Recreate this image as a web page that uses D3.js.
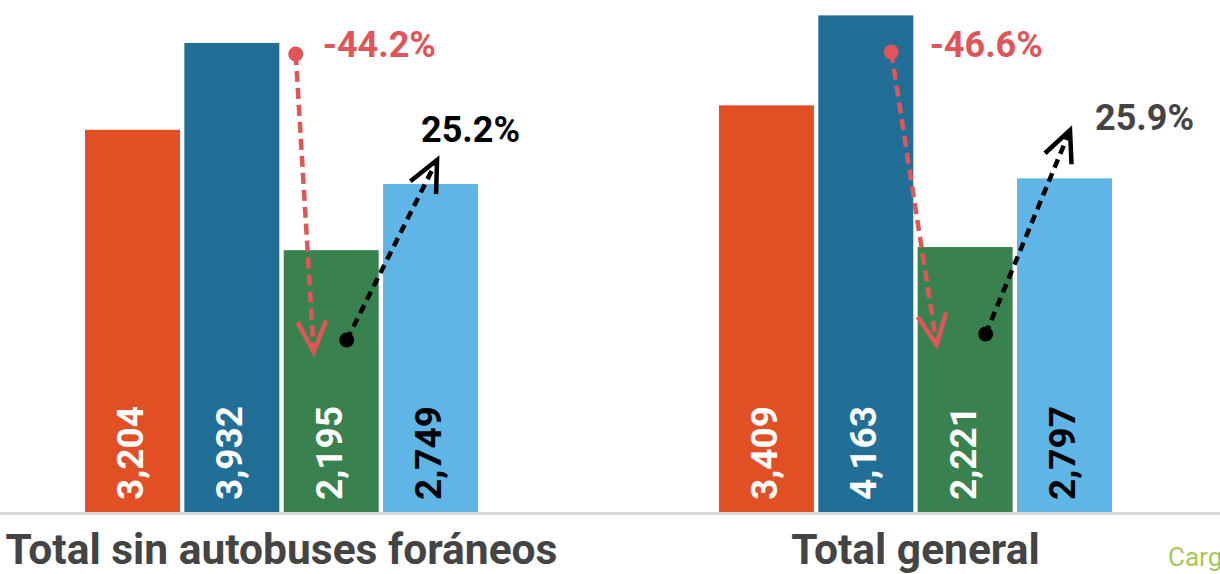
<!DOCTYPE html>
<html>
<head>
<meta charset="utf-8">
<script src="https://cdn.jsdelivr.net/npm/d3@7"></script>
<style>
  html, body { margin: 0; padding: 0; background: #ffffff; }
  svg { display: block; }
  text { font-family: Roboto, "Noto Sans", sans-serif; }
</style>
</head>
<body>
<svg id="chart" width="1220" height="574"></svg>
<script>
// ---- data ----
const categories = ["Total sin autobuses foráneos", "Total general"];
const seriesNames = ["s1", "s2", "s3", "s4"];
const seriesValues = [
  [3204, 3932, 2195, 2749],
  [3409, 4163, 2221, 2797]
];
const seriesColors = ["#e34f25", "#216e96", "#3a8150", "#5fb6e6"];
const labelColors = ["#ffffff", "#ffffff", "#ffffff", "#000000"];
// change annotations: [from value, to value] expressed in data units
const dropLabels = ["-44.2%", "-46.6%"];
const riseLabels = ["25.2%", "25.9%"];
const dropFrom = [3839, 3856];
const dropTo = [1341, 1400];
const riseFrom = [1442, 1492];
const riseTo = [2950, 3200];
const sideLabel = "Carga";

// ---- layout ----
const svg = d3.select("#chart");
const W = 1220, H = 574;
const baseY = 512;

const x0 = d3.scaleBand().domain(categories).range([85, 1112]).paddingInner(0.38).paddingOuter(0);
const x1 = d3.scaleBand().domain(seriesNames).range([0, x0.bandwidth()]).paddingInner(0.044).paddingOuter(0);
const y = d3.scaleLinear().domain([0, 4292]).range([baseY, 0]);

const fmt = d3.format(",");

const groups = svg.selectAll("g.grp").data(categories).join("g")
  .attr("class", "grp")
  .attr("transform", d => `translate(${x0(d)},0)`);

groups.each(function(cat, gi) {
  const g = d3.select(this);
  const vals = seriesValues[gi];
  g.selectAll("rect").data(vals).join("rect")
    .attr("x", (d, i) => x1(seriesNames[i]))
    .attr("width", x1.bandwidth())
    .attr("y", d => y(d))
    .attr("height", d => y(0) - y(d))
    .attr("fill", (d, i) => seriesColors[i]);
  g.selectAll("text.val").data(vals).join("text")
    .attr("class", "val")
    .attr("transform", (d, i) => `translate(${x1(seriesNames[i]) + x1.bandwidth() / 2 + 10.5},${baseY - 12}) rotate(-90)`)
    .attr("text-anchor", "start")
    .attr("font-size", 37)
    .attr("font-weight", 700)
    .attr("fill", (d, i) => labelColors[i])
    .text(d => fmt(d));
});

// baseline
svg.append("line")
  .attr("x1", 0).attr("x2", W)
  .attr("y1", baseY + 1.5).attr("y2", baseY + 1.5)
  .attr("stroke", "#d9d9d9").attr("stroke-width", 3);

// category labels
svg.selectAll("text.cat").data(categories).join("text")
  .attr("class", "cat")
  .attr("x", d => x0(d) + x0.bandwidth() / 2)
  .attr("y", 564)
  .attr("text-anchor", "middle")
  .attr("font-size", 42.5)
  .attr("font-weight", 700)
  .attr("fill", "#444444")
  .text(d => d);

svg.append("text")
  .attr("x", 1168).attr("y", 566)
  .attr("font-size", 26)
  .attr("fill", "#a6c85a")
  .text(sideLabel);

// arrows
function arrow(xa, ya, xb, yb, color, dash) {
  svg.append("line")
    .attr("x1", xa).attr("y1", ya).attr("x2", xb).attr("y2", yb)
    .attr("stroke", color).attr("stroke-width", 4.5)
    .attr("stroke-dasharray", dash);
  svg.append("circle").attr("cx", xa).attr("cy", ya).attr("r", 7.5).attr("fill", color);
  const ang = Math.atan2(ya - yb, xa - xb);
  const a = 25 * Math.PI / 180, L = 34;
  const p1 = [xb + L * Math.cos(ang + a), yb + L * Math.sin(ang + a)];
  const p2 = [xb + L * Math.cos(ang - a), yb + L * Math.sin(ang - a)];
  svg.append("path")
    .attr("d", `M${p1[0]},${p1[1]}L${xb},${yb}L${p2[0]},${p2[1]}`)
    .attr("fill", "none").attr("stroke", color).attr("stroke-width", 4.5)
    .attr("stroke-linejoin", "miter");
}

const red = "#e05558";
categories.forEach((cat, gi) => {
  const gx = x0(cat);
  const xBlue = gx + x1("s2") + x1.bandwidth();
  const xGreen = gx + x1("s3");
  const xLight = gx + x1("s4");
  // drop arrow: from above blue/green bars down into green bar
  const dxs = gi === 0 ? [xGreen + 12, xGreen + 30] : [xBlue - 22, xGreen + 19];
  arrow(dxs[0], y(dropFrom[gi]), dxs[1], y(dropTo[gi]), red, "11,6");
  // rise arrow
  const rxs = gi === 0 ? [xGreen + 63, xLight + 54] : [xGreen + 68, xLight + 53];
  arrow(rxs[0], y(riseFrom[gi]), rxs[1], y(riseTo[gi]), "#000000", "9,6");
  // labels
  svg.append("text")
    .attr("x", gi === 0 ? xGreen + 39 : xGreen + 12)
    .attr("y", 57)
    .attr("font-size", 36).attr("font-weight", 700)
    .attr("fill", red)
    .text(dropLabels[gi]);
  svg.append("text")
    .attr("x", gi === 0 ? xLight + 38 : xLight + 78)
    .attr("y", gi === 0 ? 142 : 130)
    .attr("font-size", 36).attr("font-weight", 700)
    .attr("fill", gi === 0 ? "#000000" : "#444444")
    .text(riseLabels[gi]);
});
</script>
</body>
</html>
